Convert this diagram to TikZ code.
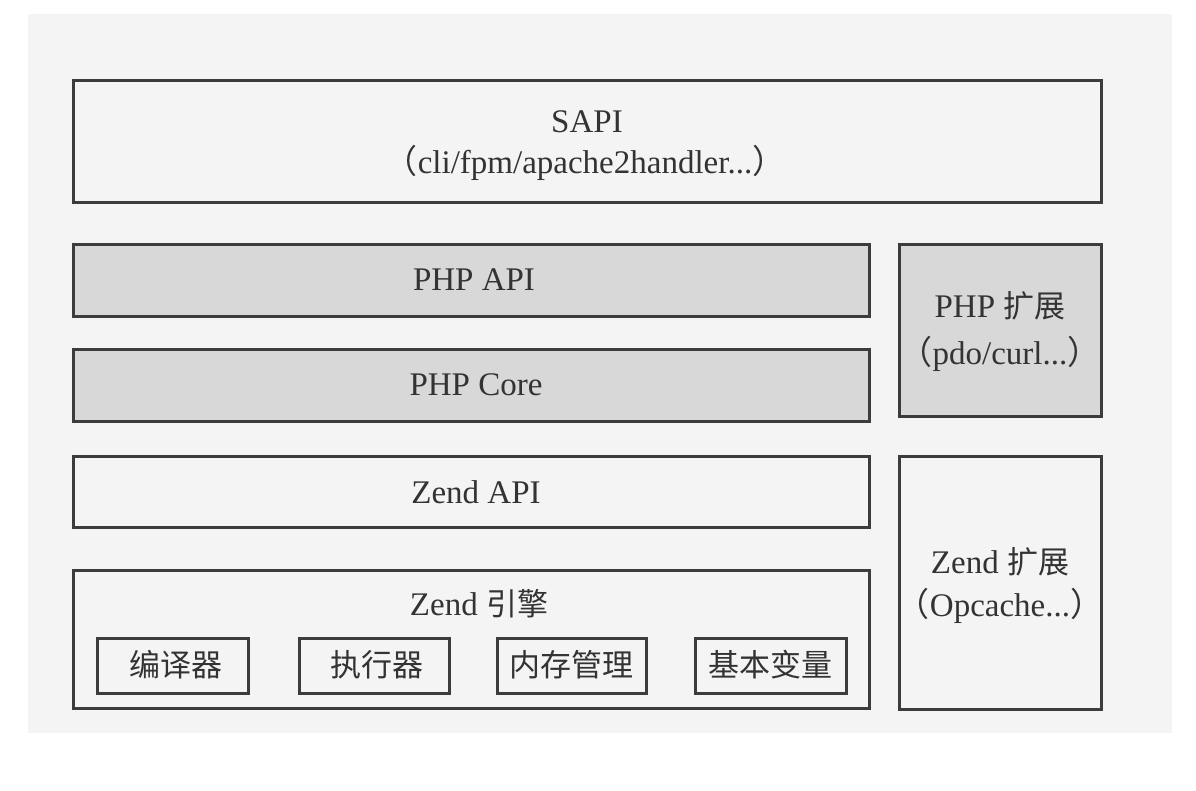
\documentclass[tikz,border=0pt]{standalone}
\usepackage{fontspec}
\setmainfont{Liberation Serif}
\newfontfamily\cjk{Noto Sans CJK SC}
\definecolor{bgc}{HTML}{F4F4F4}
\definecolor{fillg}{HTML}{D8D8D8}
\definecolor{edge}{HTML}{3C3C3C}
\definecolor{txt}{HTML}{333333}
\begin{document}
\begin{tikzpicture}[x=1pt,y=-1pt,
  layer/.style={draw=edge,line width=3pt,fill=bgc},
  grayer/.style={draw=edge,line width=3pt,fill=fillg},
  lbl/.style={text=txt,font=\fontsize{33}{40}\selectfont,align=center,inner sep=0pt},
  cjklbl/.style={text=txt,font=\fontsize{31}{38}\selectfont\cjk,align=center,inner sep=0pt},
  sub/.style={draw=edge,line width=3pt,fill=bgc}]
\useasboundingbox (0,0) rectangle (1196,790);
\fill[white] (0,0) rectangle (1196,790);
\fill[bgc] (28,14) rectangle (1172,733);
% boxes
\draw[layer] (73,80) rectangle (1101,202);
\node[lbl] (sapi1) at (587,122) {SAPI};
\node[lbl] (sapi2) at (585,163) {{\cjk （}cli/fpm/apache2handler...{\cjk ）}};
\draw[grayer] (73,244) rectangle (869,316);
\node[lbl] (phpapi) at (474,280) {PHP API};
\draw[grayer] (73,349) rectangle (869,421);
\node[lbl] (phpcore) at (476,385) {PHP Core};
\draw[grayer] (899,244) rectangle (1101,416);
\node[lbl] (phpext1) at (1000,306) {PHP {\fontsize{31}{38}\cjk 扩展}};
\node[lbl] (phpext2) at (1000,354) {{\cjk （}pdo/curl...{\cjk ）}};
\draw[layer] (73,456) rectangle (869,527);
\node[lbl] (zendapi) at (476,492) {Zend API};
\draw[layer] (899,456) rectangle (1101,709);
\node[lbl] (zext1) at (1000,562) {Zend {\fontsize{31}{38}\cjk 扩展}};
\node[lbl] (zext2) at (1000,606) {{\cjk （}Opcache...{\cjk ）}};
\draw[layer] (73,570) rectangle (869,708);
\node[lbl] (zeng) at (479,604) {Zend {\fontsize{31}{38}\cjk 引擎}};
\draw[sub] (97,638) rectangle (248,693);
\node[cjklbl] (c1) at (176,665) {编译器};
\draw[sub] (299,638) rectangle (449,693);
\node[cjklbl] (c2) at (377,665) {执行器};
\draw[sub] (497,638) rectangle (646,693);
\node[cjklbl] (c3) at (571.5,665) {内存管理};
\draw[sub] (695,638) rectangle (846,693);
\node[cjklbl] (c4) at (770.5,665) {基本变量};
\end{tikzpicture}
\end{document}
